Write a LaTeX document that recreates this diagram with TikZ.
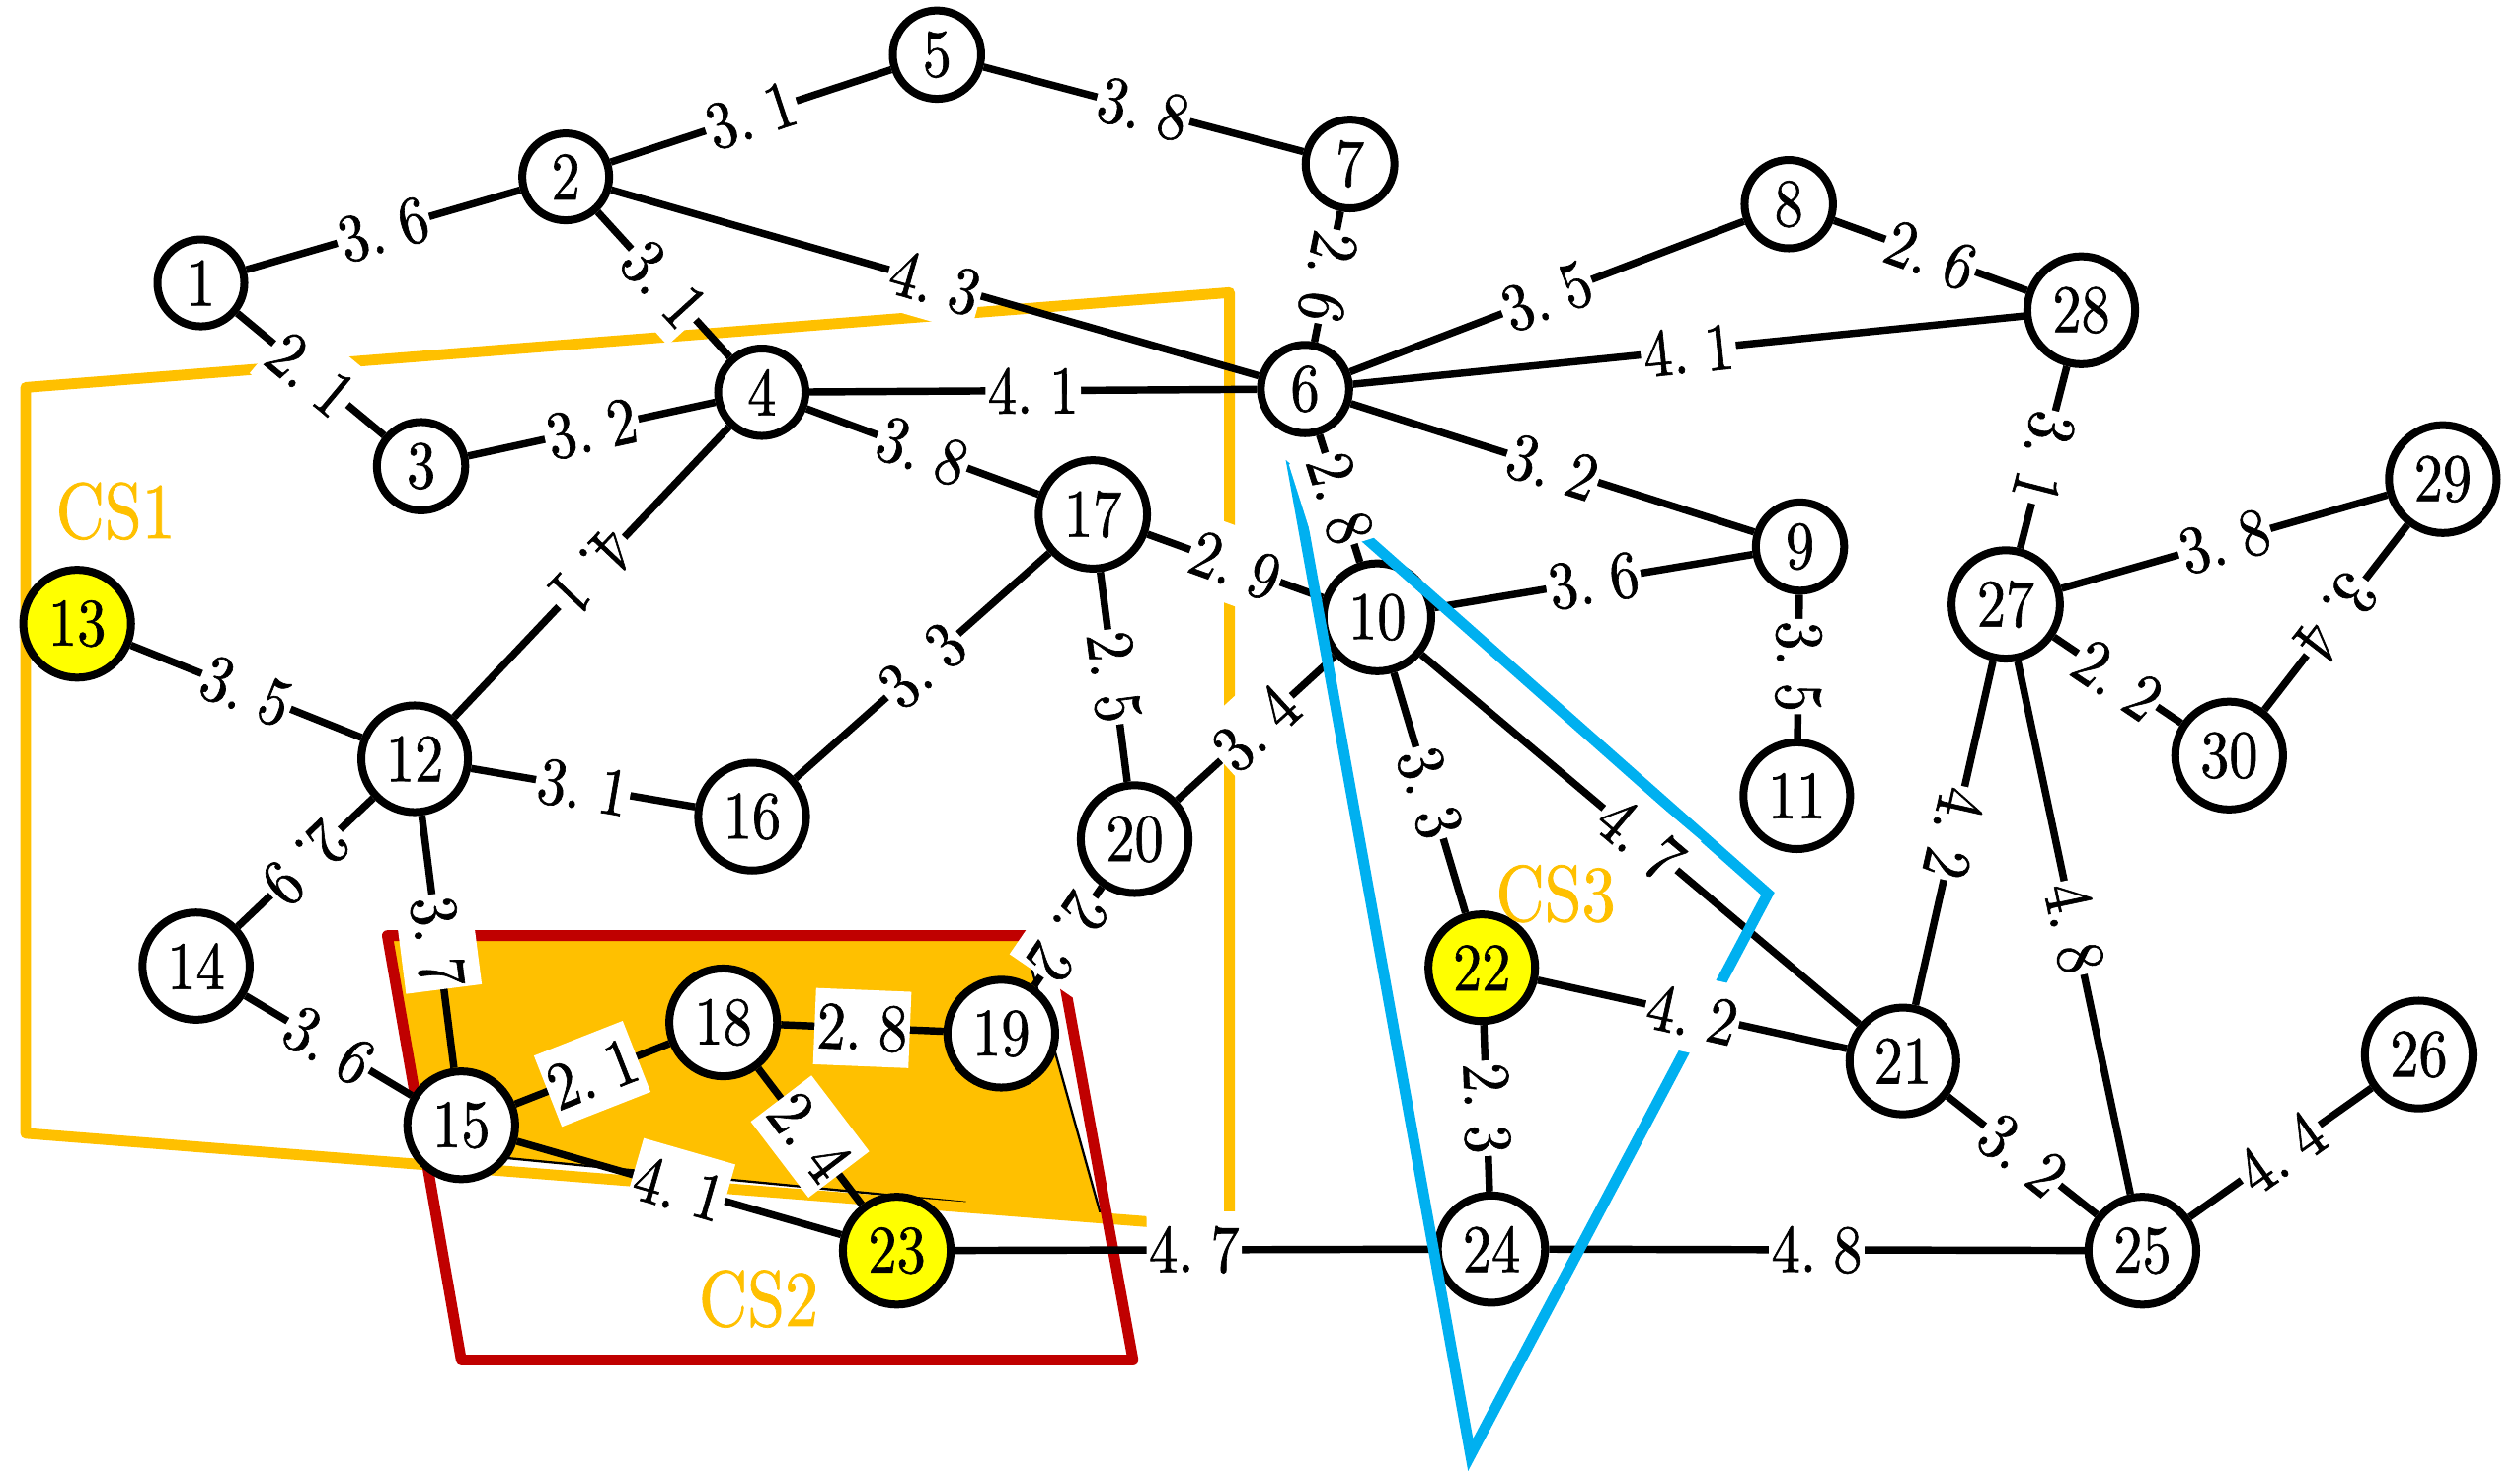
\documentclass[tikz,border=0pt]{standalone}
\usepackage{fontspec}
\newfontfamily\lblfont{lmroman10-regular.otf}[FakeStretch=0.85,FakeBold=0.9]
\definecolor{csorange}{HTML}{FFC000}
\definecolor{csred}{HTML}{C00000}
\definecolor{csblue}{HTML}{00B0F0}
\definecolor{csyellow}{HTML}{FFFF00}
\newcommand\dnum[2]{#1.\hspace{6pt}#2}
\begin{document}
\begin{tikzpicture}[x=0.02cm,y=-0.02cm,
  vtx/.style={circle,draw=black,line width=2.8pt,fill=white,inner sep=0.15cm,minimum size=1.06cm,font=\lblfont\fontsize{24}{28}\selectfont},
  hot/.style={vtx,fill=csyellow},
  lnk/.style={line width=2.6pt},
  wlbl/.style={fill=white,inner xsep=0.03cm,inner ysep=0pt,minimum height=0.95cm,font=\lblfont\fontsize{24}{28}\selectfont,sloped,allow upside down,midway},
  zone/.style={line width=3.8pt},
  thinline/.style={line width=0.8pt},
  cslbl/.style={text=csorange,font=\lblfont\fontsize{28}{32}\selectfont}]
\useasboundingbox (0,0) rectangle (1568,919);
% shared region CS1/CS2
\fill[csorange] (241,582) -- (637,585) -- (685,756) -- (601,748) -- (311,720) -- (264,716) -- cycle;
\draw[thinline] (637,585) -- (685,756);
\draw[thinline] (601,748) -- (311,720);
% CS1
\draw[zone,csorange,line join=round] (16,241) -- (765,182) -- (765,764) -- (16,705) -- cycle;
% CS2
\draw[zone,csred,line join=round] (241,582) -- (657,582) -- (705,846) -- (287,846) -- cycle;
% nodes
\node[vtx] (n1) at (125,176) {1};
\node[vtx] (n2) at (352,110) {2};
\node[vtx] (n3) at (262,290) {3};
\node[vtx] (n4) at (474,244) {4};
\node[vtx] (n5) at (583,34) {5};
\node[vtx] (n6) at (812,242) {6};
\node[vtx] (n7) at (840,102) {7};
\node[vtx] (n8) at (1113,127) {8};
\node[vtx] (n9) at (1120,340) {9};
\node[vtx] (n10) at (857,384) {10};
\node[vtx] (n11) at (1118,495) {11};
\node[vtx] (n12) at (258,472) {12};
\node[hot] (n13) at (48,388) {13};
\node[vtx] (n14) at (122,601) {14};
\node[vtx] (n15) at (287,700) {15};
\node[vtx] (n16) at (468,508) {16};
\node[vtx] (n17) at (680,320) {17};
\node[vtx] (n18) at (450,636) {18};
\node[vtx] (n19) at (623,643) {19};
\node[vtx] (n20) at (706,522) {20};
\node[vtx] (n21) at (1184,660) {21};
\node[hot] (n22) at (922,602) {22};
\node[hot] (n23) at (558,778) {23};
\node[vtx] (n24) at (928,777) {24};
\node[vtx] (n25) at (1333,778) {25};
\node[vtx] (n26) at (1505,656) {26};
\node[vtx] (n27) at (1248,376) {27};
\node[vtx] (n28) at (1295,193) {28};
\node[vtx] (n29) at (1520,298) {29};
\node[vtx] (n30) at (1387,470) {30};
\def\edgelist{1/2/3/6, 1/3/2/1, 2/5/3/1, 5/7/3/8, 2/4/3/1, 2/6/4/3, 7/6/2/6, 3/4/3/2,
  4/6/4/1, 4/17/3/8, 4/12/4/1, 13/12/3/5, 12/16/3/1, 12/14/2/9, 12/15/3/7, 14/15/3/6,
  15/18/2/1, 15/23/4/1, 18/19/2/8, 18/23/2/4, 20/19/2/2, 16/17/3/3, 17/20/2/5, 17/10/2/9,
  20/10/3/4, 6/10/2/8, 6/8/3/5, 6/28/4/1, 6/9/3/2, 8/28/2/6, 10/9/3/6, 9/11/3/5,
  10/22/3/3, 10/21/4/7, 22/21/4/2, 22/24/2/3, 23/24/4/7, 24/25/4/8, 21/25/3/2, 27/21/4/2,
  27/25/4/8, 28/27/3/1, 27/29/3/8, 27/30/2/2, 29/30/3/4, 25/26/4/4}
\foreach \a/\b/\p/\q in \edgelist { \draw[lnk] (n\a) -- (n\b); }
% CS3
\draw[zone,csblue,line join=miter] (805,295) -- (1100,556) -- (915,905) -- cycle;
% weights
\foreach \a/\b/\p/\q in \edgelist { \path (n\a) -- (n\b) node[wlbl] {\dnum{\p}{\q}}; }
% region names
\node[cslbl] (cs1) at (72,318) {CS1};
\node[cslbl] (cs2) at (472,808) {CS2};
\node[cslbl] (cs3) at (968,556) {CS3};
\end{tikzpicture}
\end{document}
